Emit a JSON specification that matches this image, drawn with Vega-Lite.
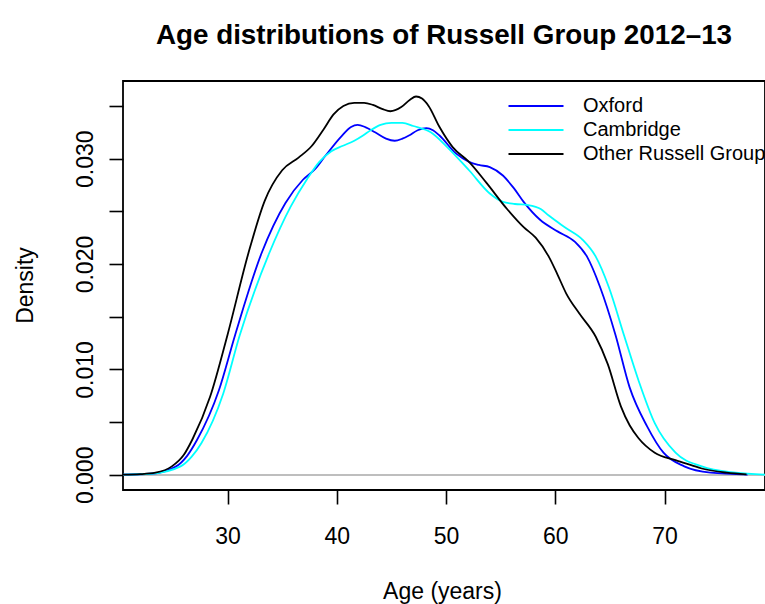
{
  "$schema": "https://vega.github.io/schema/vega-lite/v6.json",
  "autosize": {"type": "none"},
  "padding": {"left": 123, "top": 81, "right": 0, "bottom": 114},
  "width": 642,
  "height": 409,
  "background": "white",
  "title": {
    "text": "Age distributions of Russell Group 2012–13",
    "font": "Liberation Sans",
    "fontSize": 27.8,
    "fontWeight": "bold",
    "color": "black",
    "anchor": "middle",
    "baseline": "alphabetic",
    "offset": 9
  },
  "config": {
    "view": {"stroke": "black", "strokeWidth": 1.8},
    "font": "Liberation Sans",
    "axis": {
      "domain": false,
      "grid": false,
      "ticks": true,
      "tickColor": "black",
      "tickWidth": 1.6,
      "tickSize": 14,
      "labelFont": "Liberation Sans",
      "labelFontSize": 23,
      "labelColor": "black",
      "labelOverlap": false,
      "labelFlush": false,
      "titleFont": "Liberation Sans",
      "titleFontSize": 23,
      "titleFontWeight": "normal",
      "titleColor": "black"
    },
    "legend": {
      "orient": "none",
      "legendX": 402,
      "legendY": 14,
      "padding": 0,
      "labelFont": "Liberation Sans",
      "labelFontSize": 20,
      "labelColor": "black",
      "labelLimit": 400,
      "labelOffset": 36,
      "rowPadding": 3,
      "symbolType": "M-2.75,0H2.75",
      "symbolSize": 400,
      "symbolStrokeWidth": 1.8
    }
  },
  "data": {
    "values": [
      {"age": 20.4, "density": 0.00001, "group": "Oxford"},
      {"age": 23.0, "density": 0.0001, "group": "Oxford"},
      {"age": 25.3, "density": 0.0008, "group": "Oxford"},
      {"age": 26.3, "density": 0.0018, "group": "Oxford"},
      {"age": 27.2, "density": 0.0033, "group": "Oxford"},
      {"age": 29.2, "density": 0.0080, "group": "Oxford"},
      {"age": 30.7, "density": 0.0133, "group": "Oxford"},
      {"age": 33.1, "density": 0.0210, "group": "Oxford"},
      {"age": 35.3, "density": 0.0258, "group": "Oxford"},
      {"age": 36.9, "density": 0.0280, "group": "Oxford"},
      {"age": 38.0, "density": 0.0290, "group": "Oxford"},
      {"age": 38.9, "density": 0.0302, "group": "Oxford"},
      {"age": 40.4, "density": 0.0321, "group": "Oxford"},
      {"age": 41.3, "density": 0.0330, "group": "Oxford"},
      {"age": 41.9, "density": 0.0332, "group": "Oxford"},
      {"age": 42.6, "density": 0.0330, "group": "Oxford"},
      {"age": 43.5, "density": 0.0325, "group": "Oxford"},
      {"age": 44.5, "density": 0.0319, "group": "Oxford"},
      {"age": 45.3, "density": 0.0317, "group": "Oxford"},
      {"age": 46.0, "density": 0.0319, "group": "Oxford"},
      {"age": 46.6, "density": 0.0322, "group": "Oxford"},
      {"age": 47.4, "density": 0.0327, "group": "Oxford"},
      {"age": 48.2, "density": 0.0329, "group": "Oxford"},
      {"age": 48.8, "density": 0.0327, "group": "Oxford"},
      {"age": 49.4, "density": 0.0322, "group": "Oxford"},
      {"age": 50.9, "density": 0.0305, "group": "Oxford"},
      {"age": 52.1, "density": 0.0297, "group": "Oxford"},
      {"age": 53.0, "density": 0.0294, "group": "Oxford"},
      {"age": 54.0, "density": 0.0292, "group": "Oxford"},
      {"age": 55.2, "density": 0.0284, "group": "Oxford"},
      {"age": 56.2, "density": 0.0272, "group": "Oxford"},
      {"age": 57.1, "density": 0.0259, "group": "Oxford"},
      {"age": 58.6, "density": 0.0242, "group": "Oxford"},
      {"age": 60.2, "density": 0.0231, "group": "Oxford"},
      {"age": 61.8, "density": 0.0221, "group": "Oxford"},
      {"age": 62.9, "density": 0.0207, "group": "Oxford"},
      {"age": 64.1, "density": 0.0178, "group": "Oxford"},
      {"age": 65.5, "density": 0.0133, "group": "Oxford"},
      {"age": 66.8, "density": 0.0083, "group": "Oxford"},
      {"age": 68.4, "density": 0.0046, "group": "Oxford"},
      {"age": 69.9, "density": 0.0021, "group": "Oxford"},
      {"age": 71.8, "density": 0.0008, "group": "Oxford"},
      {"age": 74.2, "density": 0.0002, "group": "Oxford"},
      {"age": 77.6, "density": 0.00002, "group": "Oxford"},

      {"age": 20.4, "density": 0.00001, "group": "Cambridge"},
      {"age": 23.0, "density": 0.0001, "group": "Cambridge"},
      {"age": 25.7, "density": 0.0008, "group": "Cambridge"},
      {"age": 26.7, "density": 0.0017, "group": "Cambridge"},
      {"age": 27.6, "density": 0.0030, "group": "Cambridge"},
      {"age": 29.6, "density": 0.0077, "group": "Cambridge"},
      {"age": 31.1, "density": 0.0132, "group": "Cambridge"},
      {"age": 33.8, "density": 0.0210, "group": "Cambridge"},
      {"age": 35.8, "density": 0.0255, "group": "Cambridge"},
      {"age": 37.3, "density": 0.0281, "group": "Cambridge"},
      {"age": 38.4, "density": 0.0297, "group": "Cambridge"},
      {"age": 39.5, "density": 0.0307, "group": "Cambridge"},
      {"age": 40.5, "density": 0.0312, "group": "Cambridge"},
      {"age": 41.6, "density": 0.0317, "group": "Cambridge"},
      {"age": 42.4, "density": 0.0322, "group": "Cambridge"},
      {"age": 43.1, "density": 0.0327, "group": "Cambridge"},
      {"age": 44.0, "density": 0.0332, "group": "Cambridge"},
      {"age": 45.0, "density": 0.0334, "group": "Cambridge"},
      {"age": 46.0, "density": 0.0334, "group": "Cambridge"},
      {"age": 47.0, "density": 0.0331, "group": "Cambridge"},
      {"age": 48.6, "density": 0.0325, "group": "Cambridge"},
      {"age": 50.1, "density": 0.0311, "group": "Cambridge"},
      {"age": 52.1, "density": 0.0289, "group": "Cambridge"},
      {"age": 54.0, "density": 0.0267, "group": "Cambridge"},
      {"age": 55.2, "density": 0.0259, "group": "Cambridge"},
      {"age": 56.3, "density": 0.0257, "group": "Cambridge"},
      {"age": 57.5, "density": 0.0256, "group": "Cambridge"},
      {"age": 58.7, "density": 0.0252, "group": "Cambridge"},
      {"age": 59.4, "density": 0.0246, "group": "Cambridge"},
      {"age": 61.0, "density": 0.0234, "group": "Cambridge"},
      {"age": 62.5, "density": 0.0223, "group": "Cambridge"},
      {"age": 63.7, "density": 0.0207, "group": "Cambridge"},
      {"age": 64.9, "density": 0.0178, "group": "Cambridge"},
      {"age": 66.3, "density": 0.0132, "group": "Cambridge"},
      {"age": 67.6, "density": 0.0090, "group": "Cambridge"},
      {"age": 69.1, "density": 0.0049, "group": "Cambridge"},
      {"age": 71.0, "density": 0.0021, "group": "Cambridge"},
      {"age": 73.4, "density": 0.0008, "group": "Cambridge"},
      {"age": 76.5, "density": 0.0002, "group": "Cambridge"},
      {"age": 79.2, "density": 0.00002, "group": "Cambridge"},

      {"age": 20.4, "density": 0.00001, "group": "Other Russell Group"},
      {"age": 22.0, "density": 0.00006, "group": "Other Russell Group"},
      {"age": 23.4, "density": 0.0002, "group": "Other Russell Group"},
      {"age": 24.9, "density": 0.0008, "group": "Other Russell Group"},
      {"age": 26.0, "density": 0.0019, "group": "Other Russell Group"},
      {"age": 26.8, "density": 0.0034, "group": "Other Russell Group"},
      {"age": 28.4, "density": 0.0074, "group": "Other Russell Group"},
      {"age": 30.0, "density": 0.0133, "group": "Other Russell Group"},
      {"age": 31.9, "density": 0.0210, "group": "Other Russell Group"},
      {"age": 33.4, "density": 0.0260, "group": "Other Russell Group"},
      {"age": 35.0, "density": 0.0289, "group": "Other Russell Group"},
      {"age": 36.5, "density": 0.0301, "group": "Other Russell Group"},
      {"age": 37.7, "density": 0.0312, "group": "Other Russell Group"},
      {"age": 38.8, "density": 0.0328, "group": "Other Russell Group"},
      {"age": 39.7, "density": 0.0342, "group": "Other Russell Group"},
      {"age": 40.6, "density": 0.0350, "group": "Other Russell Group"},
      {"age": 41.6, "density": 0.0353, "group": "Other Russell Group"},
      {"age": 42.5, "density": 0.0353, "group": "Other Russell Group"},
      {"age": 43.3, "density": 0.0351, "group": "Other Russell Group"},
      {"age": 44.2, "density": 0.0347, "group": "Other Russell Group"},
      {"age": 44.9, "density": 0.0345, "group": "Other Russell Group"},
      {"age": 45.9, "density": 0.0349, "group": "Other Russell Group"},
      {"age": 46.7, "density": 0.0356, "group": "Other Russell Group"},
      {"age": 47.25, "density": 0.0359, "group": "Other Russell Group"},
      {"age": 47.8, "density": 0.0357, "group": "Other Russell Group"},
      {"age": 48.4, "density": 0.0350, "group": "Other Russell Group"},
      {"age": 49.4, "density": 0.0330, "group": "Other Russell Group"},
      {"age": 50.6, "density": 0.0311, "group": "Other Russell Group"},
      {"age": 52.1, "density": 0.0297, "group": "Other Russell Group"},
      {"age": 53.7, "density": 0.0277, "group": "Other Russell Group"},
      {"age": 55.6, "density": 0.0252, "group": "Other Russell Group"},
      {"age": 57.1, "density": 0.0235, "group": "Other Russell Group"},
      {"age": 58.2, "density": 0.0225, "group": "Other Russell Group"},
      {"age": 59.4, "density": 0.0207, "group": "Other Russell Group"},
      {"age": 60.2, "density": 0.0190, "group": "Other Russell Group"},
      {"age": 61.0, "density": 0.0172, "group": "Other Russell Group"},
      {"age": 62.2, "density": 0.0153, "group": "Other Russell Group"},
      {"age": 63.7, "density": 0.0131, "group": "Other Russell Group"},
      {"age": 64.8, "density": 0.0105, "group": "Other Russell Group"},
      {"age": 66.0, "density": 0.0065, "group": "Other Russell Group"},
      {"age": 66.8, "density": 0.0047, "group": "Other Russell Group"},
      {"age": 67.6, "density": 0.0035, "group": "Other Russell Group"},
      {"age": 69.1, "density": 0.0021, "group": "Other Russell Group"},
      {"age": 71.0, "density": 0.0014, "group": "Other Russell Group"},
      {"age": 72.5, "density": 0.0009, "group": "Other Russell Group"},
      {"age": 73.4, "density": 0.0006, "group": "Other Russell Group"},
      {"age": 75.7, "density": 0.0002, "group": "Other Russell Group"},
      {"age": 77.5, "density": 0.00005, "group": "Other Russell Group"}
    ]
  },
  "layer": [
    {
      "mark": {"type": "rule", "color": "#BEBEBE", "strokeWidth": 1.5},
      "encoding": {"y": {"datum": 0, "type": "quantitative"}}
    },
    {
      "mark": {"type": "line", "interpolate": "monotone", "strokeWidth": 1.8, "clip": true},
      "encoding": {
        "x": {
          "field": "age",
          "type": "quantitative",
          "scale": {"domain": [20.43, 79.19], "nice": false, "zero": false},
          "axis": {
            "values": [30, 40, 50, 60, 70],
            "title": "Age (years)",
            "labelBaseline": "alphabetic",
            "labelPadding": 39,
            "titleBaseline": "alphabetic",
            "titleX": 319,
            "titleY": 108
          }
        },
        "y": {
          "field": "density",
          "type": "quantitative",
          "scale": {"domain": [-0.00144, 0.03737], "nice": false, "zero": false},
          "axis": {
            "values": [0, 0.005, 0.01, 0.015, 0.02, 0.025, 0.03, 0.035],
            "labelExpr": "round(datum.value * 200) % 2 == 0 ? format(datum.value, '.3f') : ''",
            "labelAngle": 270,
            "labelAlign": "center",
            "labelBaseline": "alphabetic",
            "labelPadding": 17,
            "title": "Density",
            "titleAngle": 270,
            "titleAlign": "center",
            "titleBaseline": "alphabetic",
            "titleX": -91,
            "titleY": 204
          }
        },
        "color": {
          "field": "group",
          "type": "nominal",
          "sort": ["Oxford", "Cambridge", "Other Russell Group"],
          "scale": {
            "domain": ["Oxford", "Cambridge", "Other Russell Group"],
            "range": ["#0000FF", "#00FFFF", "#000000"]
          },
          "legend": {"title": null}
        },
        "order": {"field": "age", "type": "quantitative"}
      }
    }
  ]
}
